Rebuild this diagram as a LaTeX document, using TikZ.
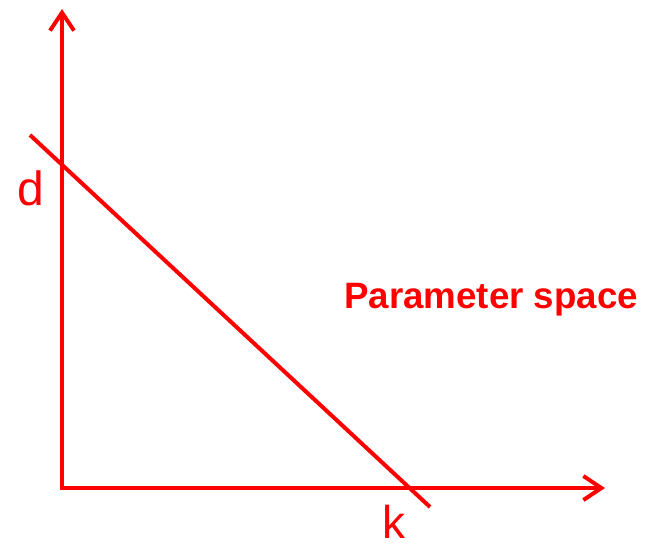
\documentclass[tikz,border=0pt]{standalone}
\usepackage{fontspec}
\setmainfont{Liberation Sans}
\usetikzlibrary{arrows.meta}
\definecolor{pred}{HTML}{FF0000}
\tikzset{
  axis/.style={draw=pred, line width=4pt, -{Straight Barb[length=18pt,width=24pt,line width=4pt]}},
  cutline/.style={draw=pred, line width=4pt},
  lbl/.style={text=pred, font=\fontsize{48}{48}\selectfont, inner sep=0pt, anchor=base},
  title/.style={text=pred, font=\fontsize{36.7}{36.7}\selectfont\bfseries, inner sep=0pt, anchor=base west}
}
\begin{document}
\begin{tikzpicture}[x=1pt,y=-1pt]
\useasboundingbox (0,0) rectangle (646,542);
\coordinate (o) at (62,488);
\coordinate (ytip) at (62,9);
\coordinate (xtip) at (605,488);
\coordinate (la) at (30,135);
\coordinate (lb) at (430,507);
\draw[axis] (o) -- (ytip);
\draw[axis] ([xshift=-2pt]o) -- (xtip);
\draw[cutline] (la) -- (lb);
\node[lbl] (d) at (31,205) {d};
\node[lbl, font=\fontsize{46}{46}\selectfont] (k) at (394,538) {k};
\node[title] (ps) at (344,308) {Parameter space};
\end{tikzpicture}
\end{document}
